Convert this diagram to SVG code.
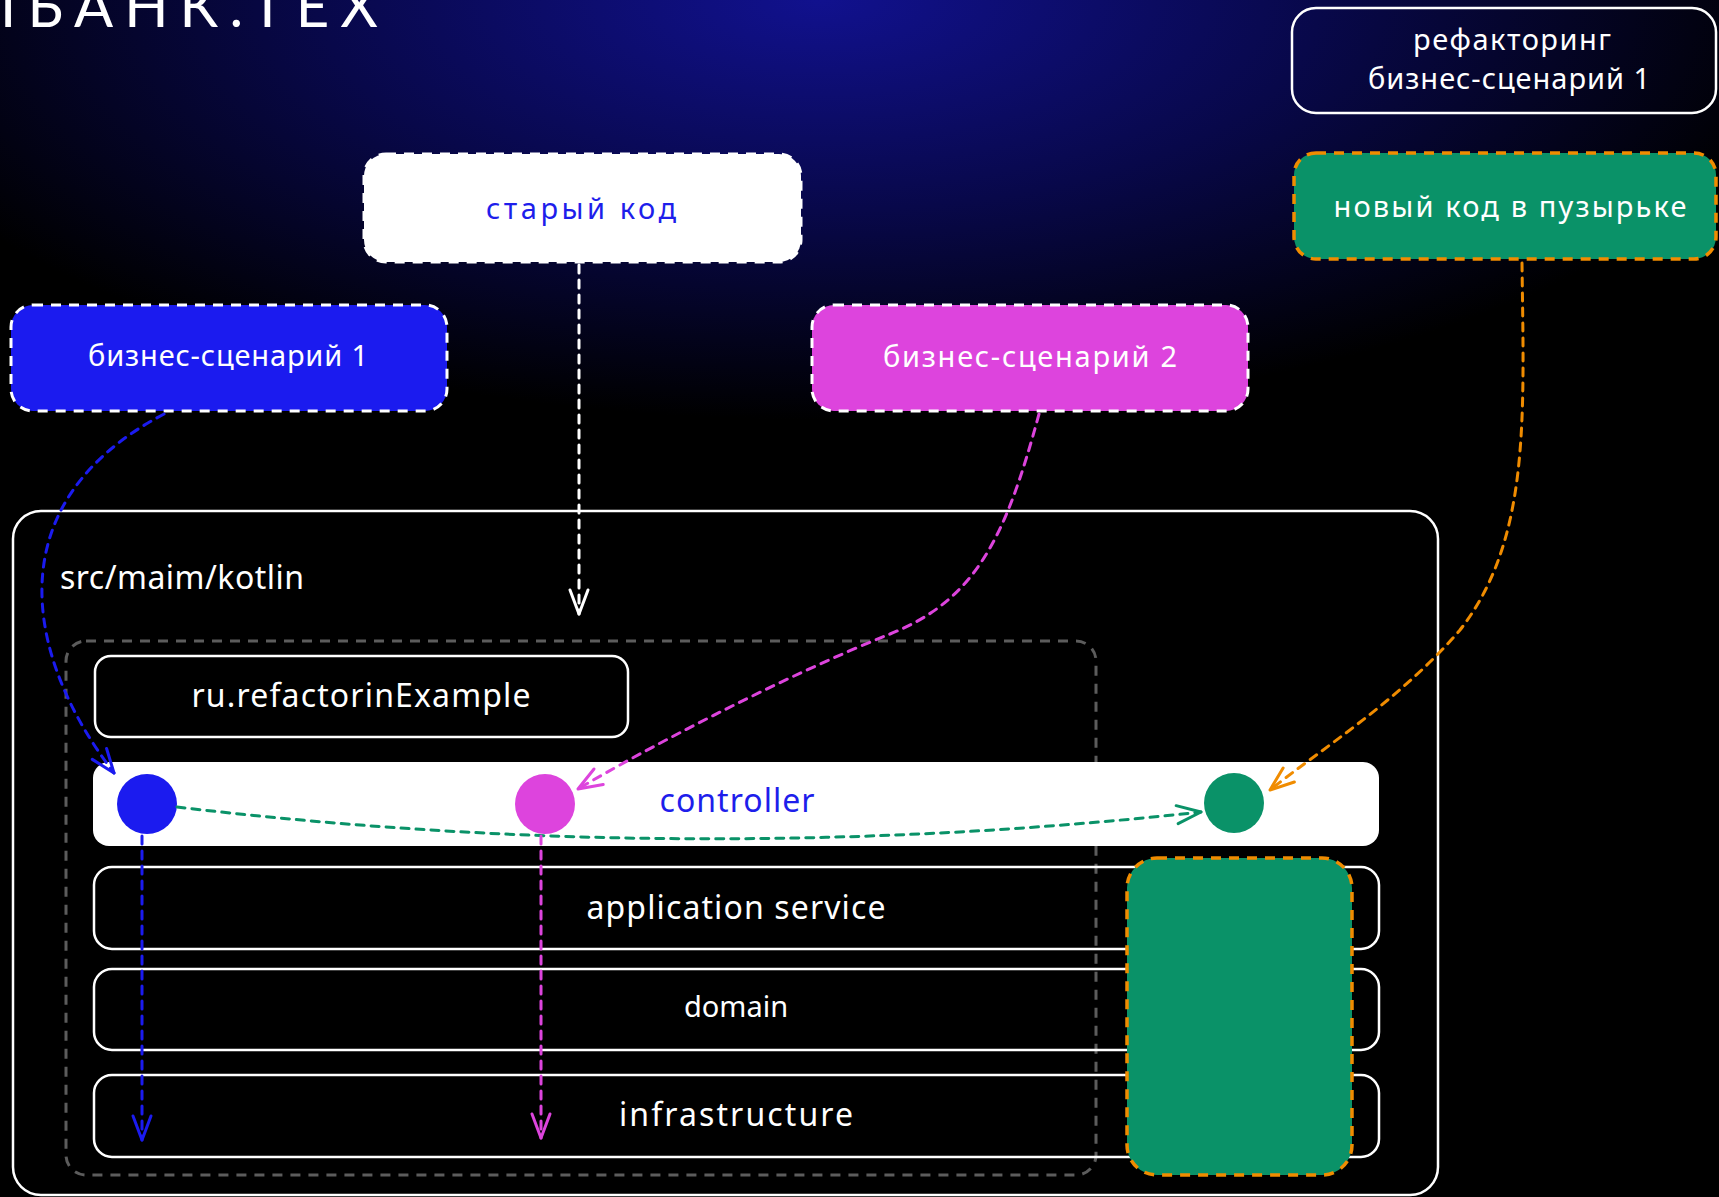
<svg xmlns="http://www.w3.org/2000/svg" width="1719" height="1197" viewBox="0 0 1719 1197">
<defs>
  <radialGradient id="bg" gradientUnits="userSpaceOnUse" cx="820" cy="0" r="1000" gradientTransform="translate(820 0) scale(1 0.42) translate(-820 0)">
    <stop offset="0" stop-color="#11118e"/>
    <stop offset="0.5" stop-color="#08084a"/>
    <stop offset="1" stop-color="#000000"/>
  </radialGradient>
  <marker id="ah-white" markerUnits="userSpaceOnUse" markerWidth="30" markerHeight="24" viewBox="-2 -2 30 24" refX="24" refY="9" orient="auto"><path d="M0,0 L24,9 L0,18" fill="none" stroke="#ffffff" stroke-width="3" stroke-linecap="round" stroke-linejoin="round"/></marker>
  <marker id="ah-blue" markerUnits="userSpaceOnUse" markerWidth="30" markerHeight="24" viewBox="-2 -2 30 24" refX="24" refY="9" orient="auto"><path d="M0,0 L24,9 L0,18" fill="none" stroke="#1b1bef" stroke-width="3" stroke-linecap="round" stroke-linejoin="round"/></marker>
  <marker id="ah-magenta" markerUnits="userSpaceOnUse" markerWidth="30" markerHeight="24" viewBox="-2 -2 30 24" refX="24" refY="9" orient="auto"><path d="M0,0 L24,9 L0,18" fill="none" stroke="#dd44dd" stroke-width="3" stroke-linecap="round" stroke-linejoin="round"/></marker>
  <marker id="ah-green" markerUnits="userSpaceOnUse" markerWidth="30" markerHeight="24" viewBox="-2 -2 30 24" refX="24" refY="9" orient="auto"><path d="M0,0 L24,9 L0,18" fill="none" stroke="#0a9268" stroke-width="3" stroke-linecap="round" stroke-linejoin="round"/></marker>
  <marker id="ah-orange" markerUnits="userSpaceOnUse" markerWidth="30" markerHeight="24" viewBox="-2 -2 30 24" refX="24" refY="9" orient="auto"><path d="M0,0 L24,9 L0,18" fill="none" stroke="#f08c00" stroke-width="3" stroke-linecap="round" stroke-linejoin="round"/></marker>
  <style>
    .lbl { font-family: "Noto Sans", "Liberation Sans", sans-serif; font-size: 29px; fill: #ffffff; text-anchor: middle; }
    .lat { font-family: "Noto Sans", "Liberation Sans", sans-serif; font-size: 32px; fill: #ffffff; text-anchor: middle; }
    .dash-white { stroke: #ffffff; stroke-width: 3; stroke-dasharray: 10 8; }
    .dash-orange { stroke: #f08c00; stroke-width: 3.5; stroke-dasharray: 10 8; }
    .solid-white { fill: none; stroke: #ffffff; stroke-width: 2.5; }
    .conn { fill: none; stroke-width: 3; stroke-dasharray: 8 7; stroke-linecap: round; }
  </style>
</defs>

<rect x="0" y="0" width="1719" height="1197" fill="url(#bg)"/>

<text x="0" y="27" textLength="378" lengthAdjust="spacing" font-family="Lato, 'Liberation Sans', sans-serif" font-weight="400" font-size="58" fill="#ffffff">ІБАНК.ТЕХ</text>

<g id="node-refactoring">
  <rect x="1292" y="8" width="424" height="105" rx="24" class="solid-white" stroke-width="3"/>
  <text class="lbl" x="1512" y="50" textLength="198" lengthAdjust="spacing">рефакторинг</text>
  <text class="lbl" x="1509" y="89" textLength="282" lengthAdjust="spacing">бизнес-сценарий 1</text>
</g>

<g id="node-new-code">
  <rect x="1294" y="153" width="422" height="106" rx="22" fill="#0a9268" class="dash-orange"/>
  <text class="lbl" x="1510" y="217" textLength="353" lengthAdjust="spacing">новый код в пузырьке</text>
</g>

<g id="node-old-code">
  <rect x="364" y="154" width="437" height="108" rx="22" fill="#ffffff" class="dash-white"/>
  <text class="lbl" x="581" y="219" style="fill:#1e1eeb" textLength="190" lengthAdjust="spacing">старый код</text>
</g>

<g id="node-scenario-1">
  <rect x="11" y="305" width="436" height="106" rx="22" fill="#1b1bef" class="dash-white"/>
  <text class="lbl" x="228" y="366" textLength="280" lengthAdjust="spacing">бизнес-сценарий 1</text>
</g>

<g id="node-scenario-2">
  <rect x="812" y="305" width="436" height="106" rx="22" fill="#dd44dd" class="dash-white"/>
  <text class="lbl" x="1030" y="367" textLength="294" lengthAdjust="spacing">бизнес-сценарий 2</text>
</g>

<g id="node-src">
  <rect x="13" y="511" width="1425" height="684" rx="28" fill="#000000" stroke="#ffffff" stroke-width="2.5"/>
  <text class="lat" x="60" y="589" style="text-anchor:start" textLength="244" lengthAdjust="spacing">src/maim/kotlin</text>
</g>

<g id="node-package-area">
  <rect x="66" y="641" width="1030" height="534" rx="20" fill="none" stroke="#5c5c5c" stroke-width="3" stroke-dasharray="10 8"/>
</g>

<g id="node-package">
  <rect x="95" y="656" width="533" height="81" rx="16" class="solid-white"/>
  <text class="lat" x="361" y="707" textLength="339" lengthAdjust="spacing">ru.refactorinExample</text>
</g>

<g id="node-controller">
  <rect x="93" y="762" width="1286" height="84" rx="16" fill="#ffffff"/>
  <text class="lat" x="737" y="812" style="fill:#1e1eeb" textLength="155" lengthAdjust="spacing">controller</text>
</g>

<g id="node-application-service">
  <rect x="94" y="867" width="1285" height="82" rx="18" class="solid-white"/>
  <text class="lat" x="736" y="919" textLength="299" lengthAdjust="spacing">application service</text>
</g>

<g id="node-domain">
  <rect x="94" y="969" width="1285" height="81" rx="18" class="solid-white"/>
  <text class="lat" x="736" y="1017" style="font-size:29px">domain</text>
</g>

<g id="node-infrastructure">
  <rect x="94" y="1075" width="1285" height="82" rx="18" class="solid-white"/>
  <text class="lat" x="736" y="1126" textLength="234" lengthAdjust="spacing">infrastructure</text>
</g>

<g id="node-bubble">
  <rect x="1127" y="858" width="225" height="317" rx="30" fill="#0a9268" class="dash-orange"/>
</g>

<g id="node-dot-blue"><circle cx="147" cy="804" r="30" fill="#1b1bef"/></g>
<g id="node-dot-magenta"><circle cx="545" cy="804" r="30" fill="#dd44dd"/></g>
<g id="node-dot-green"><circle cx="1234" cy="803" r="30" fill="#0a9268"/></g>

<g id="connectors">
  <path class="conn" stroke="#ffffff" d="M579,265 L579,614" marker-end="url(#ah-white)"/>
  <path class="conn" stroke="#1b1bef" d="M164,414 C0,500 20,650 114,773" marker-end="url(#ah-blue)"/>
  <path class="conn" stroke="#dd44dd" d="M1039,414 C1005,540 975,600 890,634 C780,678 640,752 578,789" marker-end="url(#ah-magenta)"/>
  <path class="conn" stroke="#f08c00" d="M1522,263 C1524,420 1530,540 1460,630 C1400,700 1320,750 1270,790" marker-end="url(#ah-orange)"/>
  <path class="conn" stroke="#0a9268" d="M177,807 Q690,868 1201,812" marker-end="url(#ah-green)"/>
  <path class="conn" stroke="#1b1bef" d="M142,836 L142,1140" marker-end="url(#ah-blue)"/>
  <path class="conn" stroke="#dd44dd" d="M541,836 L541,1138" marker-end="url(#ah-magenta)"/>
</g>
</svg>
